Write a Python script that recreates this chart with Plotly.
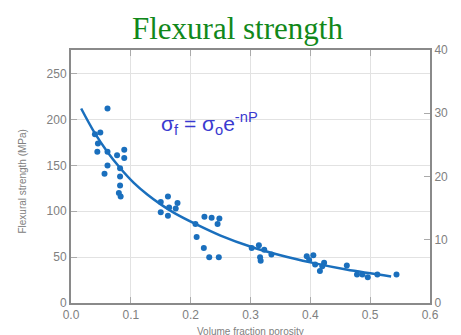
import plotly.graph_objects as go

# Data points (volume fraction porosity, MPa)
porosity = [0.061, 0.040, 0.049, 0.045, 0.044, 0.061, 0.061, 0.056, 0.077, 0.089,
            0.089, 0.082, 0.082, 0.082, 0.080, 0.083,
            0.162, 0.150, 0.178, 0.150, 0.164, 0.162, 0.175, 0.208, 0.223, 0.235,
            0.248, 0.245, 0.210, 0.222, 0.231, 0.247,
            0.302, 0.314, 0.323, 0.316, 0.317, 0.335,
            0.394, 0.405, 0.398, 0.408, 0.423, 0.416, 0.420, 0.461,
            0.478, 0.487, 0.496, 0.512, 0.544]
strength = [212, 184, 186, 174, 165, 165, 150, 141, 161, 167,
            158, 147, 138, 128, 120, 116,
            116, 110, 109, 99, 104, 95, 103, 86, 94, 93,
            92, 86, 72, 60, 50, 50,
            60, 63, 58, 50, 46, 53,
            51, 52, 47, 42, 44, 35, 40, 41,
            31, 31, 28, 31, 31]

# Fitted curve
curve_x = [0.017, 0.039, 0.060, 0.081, 0.105, 0.128, 0.150, 0.173, 0.207, 0.250,
           0.302, 0.350, 0.402, 0.460, 0.535]
curve_y = [212, 186, 165.5, 148, 131, 118, 107.5, 98, 86.5, 73.5,
           61, 52, 44, 36.5, 29]

mpa_ticks = [0, 50, 100, 150, 200, 250]
ksi_ticks = [0, 10, 20, 30, 40]
x_ticks = [0.0, 0.1, 0.2, 0.3, 0.4, 0.5, 0.6]

BLUE = "#1a6fbd"
AX = "#8a8a8a"
TXT = "#808080"

fig = go.Figure()
fig.add_trace(go.Scatter(x=curve_x, y=curve_y, mode="lines",
                         line=dict(color=BLUE, width=2.5, shape="spline", smoothing=1.0),
                         hoverinfo="skip", showlegend=False))
fig.add_trace(go.Scatter(x=porosity, y=strength, mode="markers",
                         marker=dict(color=BLUE, size=6), showlegend=False))
fig.add_trace(go.Scatter(x=[0.3], y=[0], yaxis="y2", mode="markers", marker=dict(opacity=0),
                         hoverinfo="skip", showlegend=False))

fig.update_layout(
    width=461, height=335,
    margin=dict(l=63, r=39, t=42, b=40),
    paper_bgcolor="white", plot_bgcolor="white",
    font=dict(family="Liberation Sans, Arial, sans-serif", color=TXT, size=12),
    xaxis=dict(range=[0, 0.6], tickvals=x_ticks, ticktext=[f"{v:.1f}" for v in x_ticks],
               showline=True, linecolor=AX, linewidth=2, mirror="ticks",
               ticks="inside", ticklen=6, tickcolor="#aaaaaa",
               showgrid=True, gridcolor="#e2e2e2", gridwidth=1, zeroline=False,
               tickfont=dict(size=12, color=TXT)),
    yaxis=dict(range=[0, 275.8], tickvals=mpa_ticks,
               showline=True, linecolor=AX, linewidth=2,
               ticks="inside", ticklen=6, tickcolor="#aaaaaa",
               showgrid=True, gridcolor="#e2e2e2", gridwidth=1, zeroline=False,
               tickfont=dict(size=12, color=TXT)),
    yaxis2=dict(range=[0, 40], tickvals=ksi_ticks, overlaying="y", side="right",
                showline=True, linecolor=AX, linewidth=2,
                ticks="inside", ticklen=6, tickcolor="#aaaaaa",
                showgrid=False, zeroline=False,
                tickfont=dict(size=12, color=TXT)),
    annotations=[
        dict(text="Flexural strength", xref="paper", yref="paper", x=0.465, y=1.0, yshift=22,
             xanchor="center", yanchor="middle", showarrow=False,
             font=dict(family="Liberation Serif, Times New Roman, serif", size=31, color="#11881a")),
        dict(text="σ<sub>f</sub> = σ<sub>o</sub>e<sup>-nP</sup>", xref="x", yref="y", x=0.147, y=196,
             xanchor="left", yanchor="middle", showarrow=False,
             font=dict(size=21, color="#3a3ad0")),
        dict(text="Flexural strength (MPa)", xref="paper", yref="paper", x=0, xshift=-48, y=0.48,
             textangle=-90, xanchor="center", yanchor="middle", showarrow=False,
             font=dict(size=10, color=TXT)),
        dict(text="Flexural strength (10<sup>3</sup> psi)", xref="paper", yref="paper", x=1, xshift=30, y=0.52,
             textangle=-90, xanchor="center", yanchor="middle", showarrow=False,
             font=dict(size=10, color=TXT)),
        dict(text="Volume fraction porosity", xref="paper", yref="paper", x=0.5, y=0, yshift=-28,
             xanchor="center", yanchor="middle", showarrow=False,
             font=dict(size=10, color=TXT)),
    ],
    shapes=[
        dict(type="rect", xref="paper", yref="paper", x0=-0.0706, x1=1.0176, y0=-0.158, y1=-0.138,
             fillcolor="#e2ffff", line=dict(width=0), layer="above"),
        dict(type="rect", xref="paper", yref="paper", x0=1.093, x1=1.107, y0=-0.158, y1=-0.138,
             fillcolor="#ffffc8", line=dict(width=0), layer="above"),
    ],
)

fig.write_html("out.html")
